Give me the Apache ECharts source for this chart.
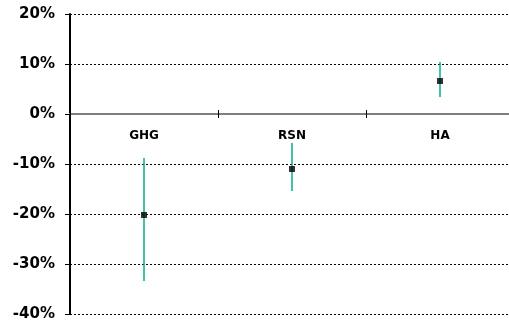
<!DOCTYPE html>
<html><head><meta charset="utf-8">
<script src="https://cdn.jsdelivr.net/npm/echarts@6/dist/echarts.min.js"></script>
<style>html,body{margin:0;padding:0;background:#fff}#c{width:509px;height:320px}</style>
</head><body><div id="c"></div>
<script>
const categories = ['GHG', 'RSN', 'HA'];
const centralValues = [-20.2, -11.0, 6.6];
const lowValues = [-33.4, -15.4, 3.4];
const highValues = [-8.8, -5.8, 10.4];
const yTicks = [-40, -30, -20, -10, 0, 10, 20];

const chart = echarts.init(document.getElementById('c'), null, {renderer: 'canvas'});
const rangeData = categories.map((c, i) => [i, lowValues[i], highValues[i]]);
const pointData = categories.map((c, i) => [i, centralValues[i]]);
const yMin = yTicks[0], yMax = yTicks[yTicks.length - 1];
const plotTop = 14, plotBottom = 6, plotH = 320 - plotTop - plotBottom;
// upper grid spans from top down to the zero line, so its bottom edge is the zero line
const zeroY = plotTop + plotH * (yMax - 0) / (yMax - yMin);

chart.setOption({
  animation: false,
  backgroundColor: '#fff',
  grid: [
    {left: 70, right: -5, top: plotTop, bottom: plotBottom, containLabel: false, outerBoundsMode: 'none'},
    {left: 70, right: -5, top: plotTop, bottom: 320 - zeroY, containLabel: false, outerBoundsMode: 'none'}
  ],
  xAxis: [{
    type: 'category', data: categories, gridIndex: 0,
    axisLine: {onZero: true, lineStyle: {color: '#7f7f7f', width: 2}},
    axisTick: {show: true, length: 4, lineStyle: {color: '#000', width: 1}},
    axisLabel: {show: false},
    splitLine: {show: false}
  }, {
    type: 'category', data: categories, gridIndex: 1, position: 'bottom',
    axisLine: {onZero: false, show: false},
    axisTick: {show: true, inside: true, length: 4, lineStyle: {color: '#000', width: 1}},
    axisLabel: {show: true, interval: 0, fontFamily: 'DejaVu Sans', fontWeight: 'bold', fontSize: 12, color: '#000', margin: 16},
    splitLine: {show: false}
  }],
  yAxis: [{
    type: 'value', min: yMin, max: yMax, interval: 10, gridIndex: 0,
    axisLine: {show: true, lineStyle: {color: '#000', width: 2}},
    axisTick: {show: true, length: 5, lineStyle: {color: '#000', width: 1}},
    axisLabel: {formatter: '{value}%', fontFamily: 'DejaVu Sans', fontWeight: 'bold', fontSize: 15, color: '#000', margin: 15},
    splitLine: {show: true, lineStyle: {color: '#000', width: 1, type: [2, 2]}}
  }, {
    type: 'value', min: 0, max: yMax, gridIndex: 1,
    axisLine: {show: false}, axisTick: {show: false}, axisLabel: {show: false}, splitLine: {show: false}
  }],
  series: [{
    type: 'custom',
    xAxisIndex: 0, yAxisIndex: 0,
    data: rangeData,
    renderItem: function (params, api) {
      const lo = api.coord([api.value(0), api.value(1)]);
      const hi = api.coord([api.value(0), api.value(2)]);
      return {type: 'line', shape: {x1: lo[0], y1: lo[1], x2: hi[0], y2: hi[1]},
        style: {stroke: '#00b08a', lineWidth: 1.5}};
    },
    encode: {x: 0, y: [1, 2]},
    z: 3
  }, {
    type: 'scatter',
    xAxisIndex: 0, yAxisIndex: 0,
    data: pointData,
    symbol: 'rect', symbolSize: 6,
    itemStyle: {color: '#000'},
    z: 4
  }]
});
</script></body></html>
